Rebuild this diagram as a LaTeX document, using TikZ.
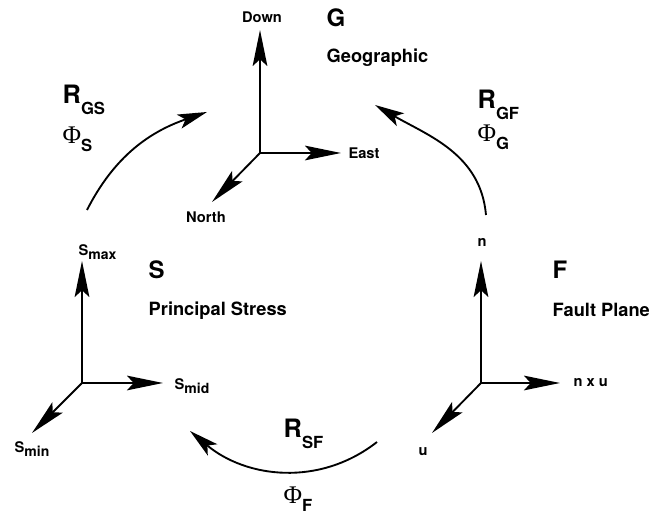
\documentclass[tikz,border=0pt]{standalone}
\usepackage{fontspec}
\setmainfont{TeX Gyre Heros}
\newfontfamily\phifont{Liberation Serif}
\usetikzlibrary{arrows.meta,positioning}

\newcommand{\bigsub}[1]{\raisebox{-8pt}{\fontsize{12.5}{14}\selectfont #1}}
\newcommand{\phisub}[1]{\raisebox{-6pt}{\fontsize{12.5}{14}\selectfont #1}}
\newcommand{\smallsub}[1]{\raisebox{-3.5pt}{\fontsize{10.5}{12}\selectfont #1}}
\newcommand{\phisym}{{\phifont\mdseries\fontsize{19}{22}\selectfont\symbol{"03A6}}}

\tikzset{
  axisarrow/.style={line width=1.4pt,
    -{Stealth[length=27pt,width=11pt,inset=5pt]}},
  turnarrow/.style={line width=1.4pt,
    -{Stealth[length=22pt,width=11pt,inset=5pt]}},
  framename/.style={anchor=west,font=\fontsize{18}{20}\selectfont\bfseries},
  framedesc/.style={anchor=west,font=\fontsize{13.7}{16}\selectfont\bfseries},
  axislabel/.style={font=\fontsize{11}{13}\selectfont\bfseries},
  rotlabel/.style={anchor=west,font=\fontsize{19}{22}\selectfont\bfseries}
}

\begin{document}
\begin{tikzpicture}[x=0.75pt,y=0.75pt]
  \useasboundingbox (0,0) rectangle (649,523);

  % geographic frame
  \coordinate (gO) at (260,370);
  \node[axislabel] (down) at (262,506) {Down};
  \node[axislabel] (east) at (364,370) {East};
  \node[axislabel] (north) at (206,306) {North};
  \coordinate (gD) at (260,493);
  \coordinate (gE) at (341,370);
  \coordinate (gN) at (212,321);
  \draw[axisarrow] (gO) -- (gD);
  \draw[axisarrow] (gO) -- (gE);
  \draw[axisarrow] (gO) -- (gN);
  \node[framename] (gname) at (322,505) {G};
  \node[framedesc] (gdesc) at (322,465) {Geographic};

  % principal stress frame
  \coordinate (sO) at (82,140);
  \coordinate (sMax) at (82,262);
  \coordinate (sMid) at (163,140);
  \coordinate (sMin) at (32,90);
  \draw[axisarrow] (sO) -- (sMax);
  \draw[axisarrow] (sO) -- (sMid);
  \draw[axisarrow] (sO) -- (sMin);
  \node[axislabel,anchor=west] (smaxlab) at (74,271) {S\smallsub{max}};
  \node[axislabel,anchor=west] (smidlab) at (170,137) {S\smallsub{mid}};
  \node[axislabel,anchor=west] (sminlab) at (10,74) {S\smallsub{min}};
  \node[framename] (sname) at (144,253) {S};
  \node[framedesc] (sdesc) at (144,212) {Principal Stress};

  % fault plane frame
  \coordinate (fO) at (481,140);
  \coordinate (fN) at (481,262);
  \coordinate (fNU) at (560,140);
  \coordinate (fU) at (432,90);
  \draw[axisarrow] (fO) -- (fN);
  \draw[axisarrow] (fO) -- (fNU);
  \draw[axisarrow] (fO) -- (fU);
  \node[axislabel] (nlab) at (482,281) {n};
  \node[axislabel,anchor=west] (nulab) at (569,140) {n x u};
  \node[axislabel] (ulab) at (423,71) {u};
  \node[framename] (fname) at (548,253) {F};
  \node[framedesc] (fdesc) at (548,213) {Fault Plane};

  % rotations
  \coordinate (gsA) at (87,313);
  \coordinate (gsB) at (207,411);
  \draw[turnarrow] (gsA) to[out=63,in=199] (gsB);
  \node[rotlabel] (rgs) at (58,423) {R\bigsub{GS}};
  \node[rotlabel] (phis) at (58,384) {\phisym\phisub{S}};

  \coordinate (gfA) at (486,308);
  \coordinate (gfB) at (375,418);
  \draw[turnarrow] (gfA) to[out=95,in=-30] (gfB);
  \node[rotlabel] (rgf) at (473,418) {R\bigsub{GF}};
  \node[rotlabel] (phig) at (473,386) {\phisym\phisub{G}};

  \coordinate (sfA) at (377,81);
  \coordinate (sfB) at (190,92);
  \draw[turnarrow] (sfA) to[out=218,in=-40] (sfB);
  \node[rotlabel] (rsf) at (279,89) {R\bigsub{SF}};
  \node[rotlabel] (phif) at (279,24) {\phisym\phisub{F}};
\end{tikzpicture}
\end{document}
